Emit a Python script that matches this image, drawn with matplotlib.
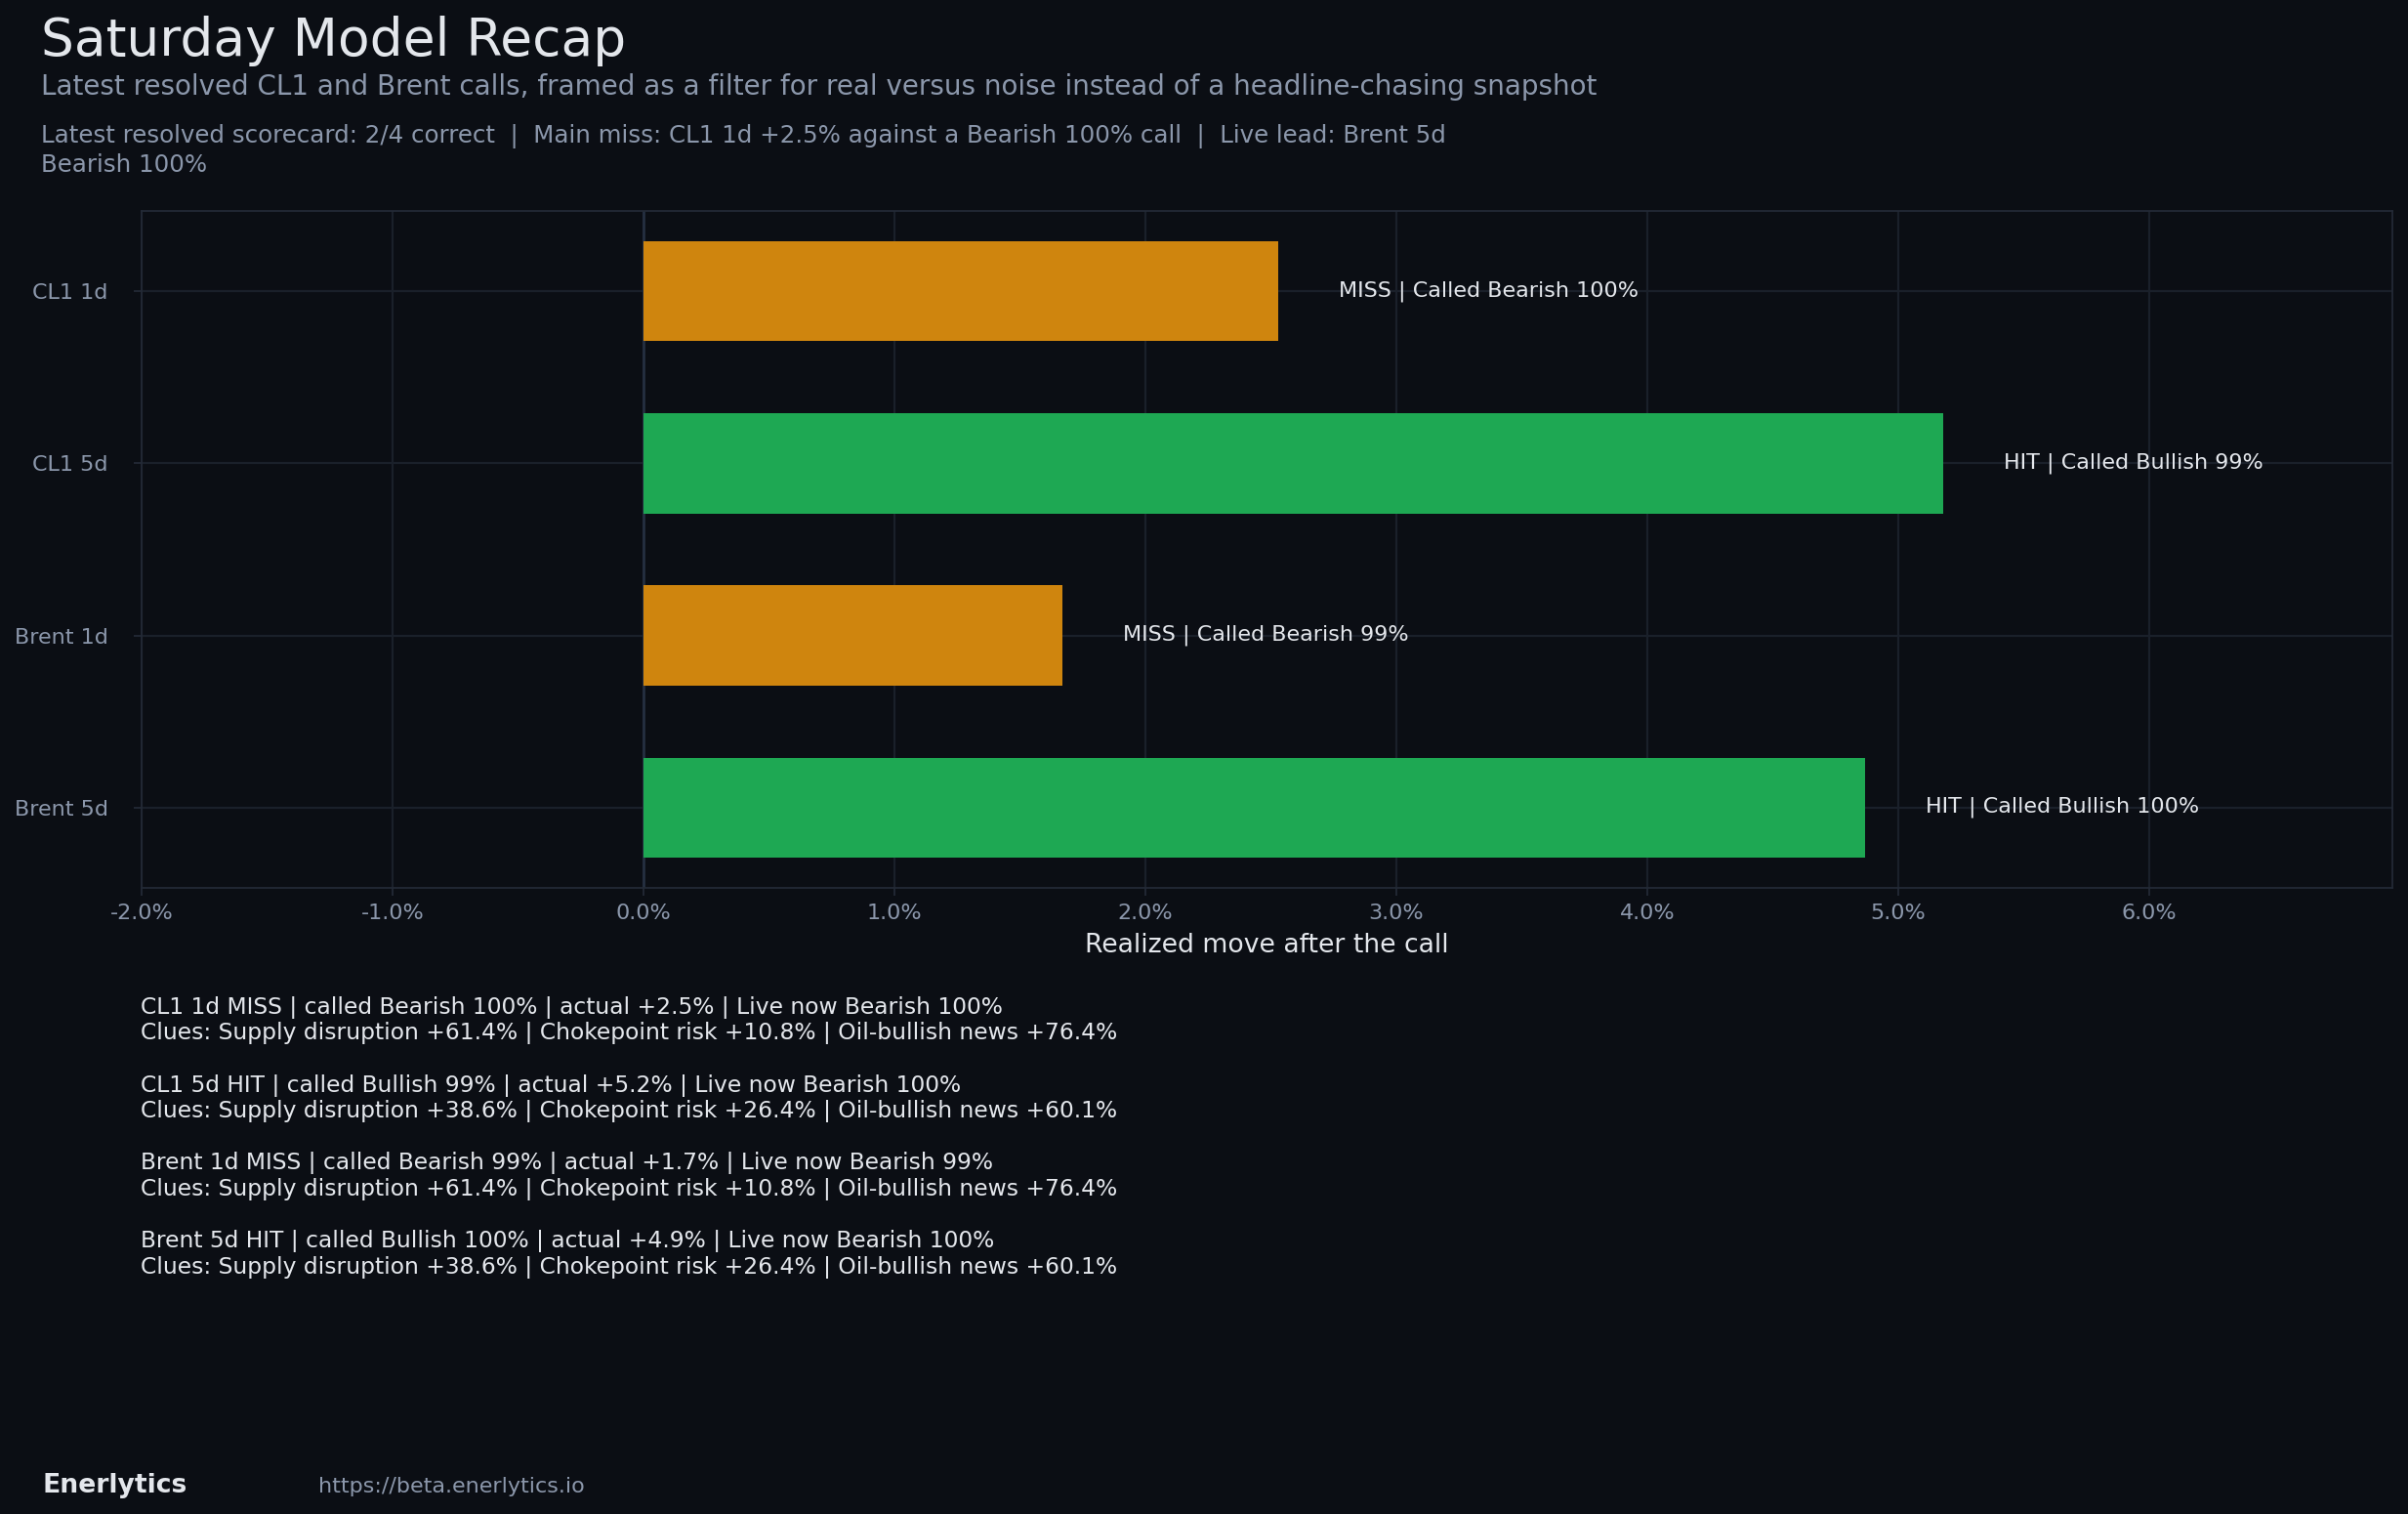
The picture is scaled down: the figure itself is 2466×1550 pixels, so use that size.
import matplotlib
matplotlib.use("Agg")
import matplotlib.pyplot as plt
from matplotlib.ticker import FuncFormatter

# data
labels = ["CL1 1d", "CL1 5d", "Brent 1d", "Brent 5d"]
moves = [2.53, 5.18, 1.67, 4.87]
outcome = ["MISS", "HIT", "MISS", "HIT"]
called = ["Bearish 100%", "Bullish 99%", "Bearish 99%", "Bullish 100%"]
live_now = ["Bearish 100%", "Bearish 100%", "Bearish 99%", "Bearish 100%"]
actual_txt = ["+2.5%", "+5.2%", "+1.7%", "+4.9%"]
supply = ["+61.4%", "+38.6%", "+61.4%", "+38.6%"]
choke = ["+10.8%", "+26.4%", "+10.8%", "+26.4%"]
news = ["+76.4%", "+60.1%", "+76.4%", "+60.1%"]

BG = "#0b0e14"
FG = "#e4e7ec"
MUTED = "#8b97ab"
GRID = "#1a202a"
SPINE = "#232a36"
colors = {"MISS": "#cf850e", "HIT": "#1ea853"}

fig = plt.figure(figsize=(2466 / 160, 1550 / 160), dpi=160, facecolor=BG)
ax = fig.add_axes([0.0588, 0.4134, 0.9935 - 0.0588, 0.8608 - 0.4134])
ax.set_facecolor(BG)

ypos = range(len(labels))
ax.barh(ypos, moves, height=0.58, color=[colors[o] for o in outcome], zorder=3)
for y, v, o, c in zip(ypos, moves, outcome, called):
    ax.text(v + 0.24, y, f"{o} | Called {c}", va="center", ha="left",
            color=FG, fontsize=10, zorder=4)

ax.set_yticks(list(ypos))
ax.set_yticklabels(labels)
ax.invert_yaxis()
ax.set_xlim(-2.0, max(moves) + 1.79)
ax.set_xticks([-2, -1, 0, 1, 2, 3, 4, 5, 6])
ax.xaxis.set_major_formatter(FuncFormatter(lambda x, p: f"{x:.1f}%"))
ax.tick_params(colors=MUTED, labelsize=10, length=3.5)
ax.tick_params(axis="both", color=SPINE)
ax.tick_params(axis="y", pad=12)
ax.grid(True, color=GRID, linewidth=1)
ax.set_axisbelow(True)
ax.axvline(0, color="#263042", linewidth=1.2, zorder=2)
for s in ax.spines.values():
    s.set_color(SPINE)
ax.set_xlabel("Realized move after the call", color=FG, fontsize=12, labelpad=4.5)

# header
fig.text(0.017, 0.963, "Saturday Model Recap", fontsize=24, color=FG, va="baseline")
fig.text(0.017, 0.9376,
         "Latest resolved CL1 and Brent calls, framed as a filter for real versus noise "
         "instead of a headline-chasing snapshot",
         fontsize=12.5, color=MUTED, va="baseline")
fig.text(0.017, 0.8866,
         "Latest resolved scorecard: 2/4 correct  |  Main miss: CL1 1d +2.5% against a "
         "Bearish 100% call  |  Live lead: Brent 5d\nBearish 100%",
         fontsize=11, color=MUTED, va="baseline", linespacing=1.25)

# detail block
blocks = []
for i in range(len(labels)):
    blocks.append(f"{labels[i]} {outcome[i]} | called {called[i]} | actual {actual_txt[i]} | "
                  f"Live now {live_now[i]}\n"
                  f"Clues: Supply disruption {supply[i]} | Chokepoint risk {choke[i]} | "
                  f"Oil-bullish news {news[i]}")
fig.text(0.0583, 0.1589, "\n\n".join(blocks), fontsize=10.5, color=FG,
         va="baseline", linespacing=1.2)

# footer
fig.text(0.0178, 0.0144, "Enerlytics", fontsize=12, fontweight="bold", color=FG, va="baseline")
fig.text(0.1324, 0.0144, "https://beta.enerlytics.io", fontsize=10, color=MUTED, va="baseline")

fig.savefig("out.png", dpi=160, facecolor=BG)
